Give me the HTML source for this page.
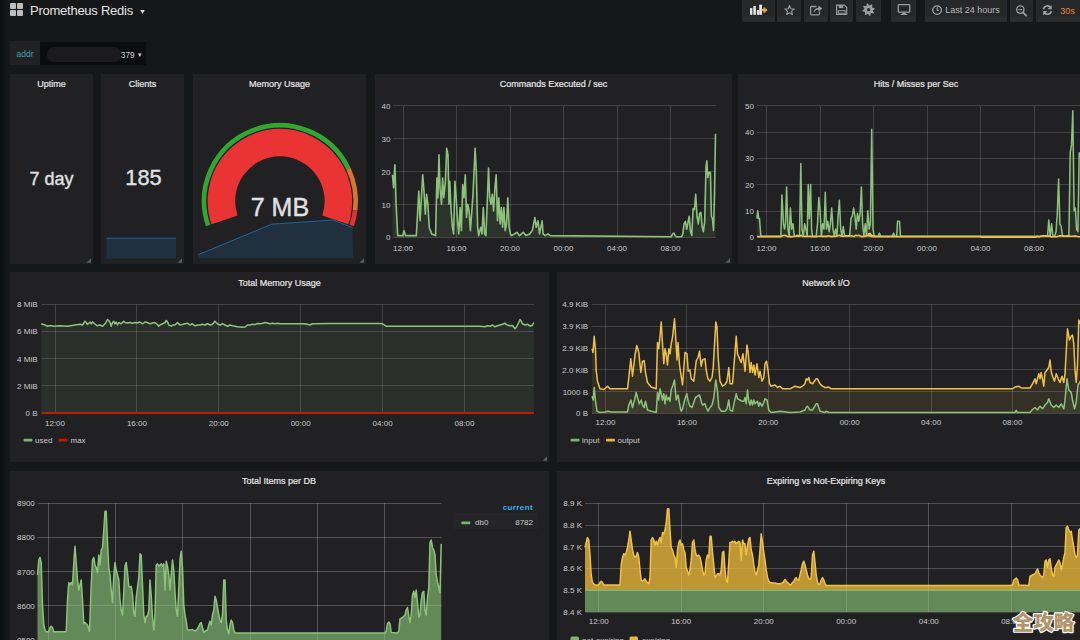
<!DOCTYPE html>
<html><head><meta charset="utf-8"><title>Prometheus Redis - Grafana</title>
<style>
html,body{margin:0;padding:0}
body{width:1080px;height:640px;overflow:hidden;background:#161719;font-family:"Liberation Sans",Arial,sans-serif;color:#d8d9da;position:relative}
.edge{position:absolute;left:0;top:0;width:7px;height:640px;background:linear-gradient(90deg,#0d0e10 0,#101113 3px,#161719 7px)}
.panel{position:absolute;background:#212124}
.ptitle{position:absolute;width:300px;text-align:center;font-size:9px;line-height:12px;color:#e6e6e6;white-space:nowrap;-webkit-text-stroke:0.2px #e6e6e6}
.nav-title{position:absolute;left:30px;top:2px;font-size:13px;line-height:17px;color:#e3e3e3;letter-spacing:-0.25px}
.grid-ic{position:absolute;left:10px;top:3px;width:14px;height:14px}
.grid-ic i{position:absolute;width:6px;height:6px;background:#bdbdbd;border-radius:1px}
.btn{position:absolute;top:-4px;height:25.5px;background:linear-gradient(180deg,#262729 0,#262729 78%,#2c2d2f 84%,#2c2d2f 100%);box-shadow:inset 0 0 0 1px #292a2c;border-radius:0 0 2px 2px}
.var-l{position:absolute;left:10px;top:41px;width:30px;height:24px;background:#212124;color:#33a2b5;font-size:8.5px;line-height:26px;text-align:center}
.var-v{position:absolute;left:40px;top:42px;width:106px;height:23px;background:#0b0c0e}
.blob{position:absolute;left:47px;top:47px;width:74px;height:15px;border-radius:7px;background:#1b1b1d}
.var-t{position:absolute;left:120.8px;top:47.5px;font-size:8.3px;line-height:14px;color:#cfd0d1}
svg{position:absolute;left:0;top:0}
.ax{font-size:8px;fill:#c8c9ca;font-family:"Liberation Sans",Arial,sans-serif}
.lg{font-size:8px;fill:#c8c9ca;font-family:"Liberation Sans",Arial,sans-serif}
.cur{font-size:8px;font-weight:bold;letter-spacing:0.4px;fill:#33b5e5;font-family:"Liberation Sans",Arial,sans-serif}
.gv{font-size:25px;fill:#e0e1e2;stroke:#e0e1e2;stroke-width:0.4px;font-family:"Liberation Sans",Arial,sans-serif}
.stat{position:absolute;text-align:center;color:#e0e1e2;white-space:nowrap;-webkit-text-stroke:0.35px #e0e1e2}
.wm{font-family:"Liberation Sans","Noto Sans CJK SC","WenQuanYi Zen Hei",sans-serif;font-weight:900;font-size:20.5px;fill:#b3936a}
.tb{font-size:9px;fill:#b8b9ba;font-family:"Liberation Sans",Arial,sans-serif}
</style></head><body>
<div class="edge"></div>
<div class="grid-ic"><i style="left:0;top:0"></i><i style="left:7px;top:0"></i><i style="left:0;top:7px"></i><i style="left:7px;top:7px"></i></div>
<div class="nav-title">Prometheus Redis<span style="font-size:7px;position:relative;top:-1px;margin-left:6px">&#9660;</span></div>
<div class="btn" style="left:742px;width:33px"></div>
<div class="btn" style="left:777px;width:24px"></div>
<div class="btn" style="left:804px;width:24px"></div>
<div class="btn" style="left:830px;width:23px"></div>
<div class="btn" style="left:856px;width:25px"></div>
<div class="btn" style="left:891px;width:25px"></div>
<div class="btn" style="left:925px;width:82px"></div>
<div class="btn" style="left:1010px;width:23px"></div>
<div class="btn" style="left:1036px;width:50px"></div>
<div class="var-l">addr</div>
<div class="var-v"></div><div class="blob"></div>
<div class="var-t">379<span style="font-size:6px;margin-left:2px;position:relative;top:-1px">&#9660;</span></div>
<div class="panel" style="left:10px;top:74px;width:83px;height:190px"></div><div class="ptitle" style="left:-98.5px;top:78px">Uptime</div><div class="panel" style="left:101px;top:74px;width:83px;height:190px"></div><div class="ptitle" style="left:-7.5px;top:78px">Clients</div><div class="panel" style="left:193px;top:74px;width:173px;height:190px"></div><div class="ptitle" style="left:129.5px;top:78px">Memory Usage</div><div class="panel" style="left:375px;top:74px;width:357px;height:190px"></div><div class="ptitle" style="left:403.5px;top:78px">Commands Executed / sec</div><div class="panel" style="left:738px;top:74px;width:353px;height:190px"></div><div class="ptitle" style="left:766px;top:78px">Hits / Misses per Sec</div><div class="panel" style="left:10px;top:272px;width:539px;height:190px"></div><div class="ptitle" style="left:129.5px;top:276.6px">Total Memory Usage</div><div class="panel" style="left:557px;top:272px;width:534px;height:190px"></div><div class="ptitle" style="left:676px;top:276.6px">Network I/O</div><div class="panel" style="left:10px;top:471px;width:539px;height:180px"></div><div class="ptitle" style="left:129px;top:475px">Total Items per DB</div><div class="panel" style="left:557px;top:471px;width:534px;height:180px"></div><div class="ptitle" style="left:676px;top:475px">Expiring vs Not-Expiring Keys</div>
<div class="stat" style="left:10px;width:83px;top:166.7px;font-size:18px;line-height:24px">7 day</div>
<div class="stat" style="left:102px;width:83px;top:165px;font-size:21.8px;line-height:26px">185</div>
<svg width="1080" height="640" viewBox="0 0 1080 640">
<line x1="393" y1="105.5" x2="716" y2="105.5" stroke="rgba(255,255,255,0.15)" stroke-width="1"/>
<line x1="393" y1="138.5" x2="716" y2="138.5" stroke="rgba(255,255,255,0.15)" stroke-width="1"/>
<line x1="393" y1="171.5" x2="716" y2="171.5" stroke="rgba(255,255,255,0.15)" stroke-width="1"/>
<line x1="393" y1="204.5" x2="716" y2="204.5" stroke="rgba(255,255,255,0.15)" stroke-width="1"/>
<line x1="393" y1="237.5" x2="716" y2="237.5" stroke="rgba(255,255,255,0.15)" stroke-width="1"/>
<line x1="403.5" y1="105.8" x2="403.5" y2="237.5" stroke="rgba(255,255,255,0.15)" stroke-width="1"/>
<line x1="456.5" y1="105.8" x2="456.5" y2="237.5" stroke="rgba(255,255,255,0.15)" stroke-width="1"/>
<line x1="510.5" y1="105.8" x2="510.5" y2="237.5" stroke="rgba(255,255,255,0.15)" stroke-width="1"/>
<line x1="563.5" y1="105.8" x2="563.5" y2="237.5" stroke="rgba(255,255,255,0.15)" stroke-width="1"/>
<line x1="617.5" y1="105.8" x2="617.5" y2="237.5" stroke="rgba(255,255,255,0.15)" stroke-width="1"/>
<line x1="670.5" y1="105.8" x2="670.5" y2="237.5" stroke="rgba(255,255,255,0.15)" stroke-width="1"/>
<text x="390.5" y="108.6" text-anchor="end" class="ax">40</text>
<text x="390.5" y="141.6" text-anchor="end" class="ax">30</text>
<text x="390.5" y="174.6" text-anchor="end" class="ax">20</text>
<text x="390.5" y="207.6" text-anchor="end" class="ax">10</text>
<text x="390.5" y="240.3" text-anchor="end" class="ax">0</text>
<text x="403" y="251.3" text-anchor="middle" class="ax">12:00</text>
<text x="456.5" y="251.3" text-anchor="middle" class="ax">16:00</text>
<text x="510" y="251.3" text-anchor="middle" class="ax">20:00</text>
<text x="563.5" y="251.3" text-anchor="middle" class="ax">00:00</text>
<text x="617" y="251.3" text-anchor="middle" class="ax">04:00</text>
<text x="670.5" y="251.3" text-anchor="middle" class="ax">08:00</text>
<polygon points="392.5,237.5 392.5,174.7 393.6,187.8 394.9,164.8 396.1,204.3 397.7,235.6 402.8,235.6 403.9,230.6 405.4,235.6 416.3,235.6 418.8,191.1 420.1,220.8 422.7,174.7 424,191.1 425.3,214.2 426.6,194.4 427.9,204.3 429.2,227.3 431.7,233.9 435.6,235.6 436.9,178 437.9,197.7 439,154.9 440,187.8 441.5,204.3 442.6,178 443.8,197.7 445.4,181.3 446.7,148.4 448,154.9 449,204.3 449.8,181.3 451.1,210.9 452.4,227.3 453.6,233.9 454.9,181.3 456.2,197.7 457.5,220.8 458.8,233.9 460.1,207.6 461.4,230.6 462.7,184.6 464,197.7 465.3,174.7 466.5,217.5 467.8,204.3 469.1,210.9 470.4,230.6 473,194.4 475.1,148.4 476.3,171.4 477.6,227.3 478.7,235.6 480.7,227.3 482,233.9 483.3,207.6 484.6,233.9 485.9,235.6 487.2,204.3 488.5,168.1 489.7,197.7 491,204.3 492.3,194.4 493.6,210.9 494.9,187.8 496.2,174.7 497.5,220.8 498.8,197.7 500.1,224 501.4,207.6 502.6,227.3 503.9,207.6 505.2,230.6 506.5,224 507.8,197.7 509.1,227.3 510.4,233.9 511.7,235.6 516.8,232.3 519.4,235.6 523.3,232.3 525.9,235.6 529.7,233.9 532.3,230.6 534.9,217.5 536.2,227.3 538,220.8 539.5,233.9 542.1,220.8 543.1,233.9 545.2,235.6 547.8,233.9 550.3,235.6 671.2,236.8 672.5,234.2 673.8,233 675.1,235.5 676.4,236.8 681.5,236.8 682.8,234.2 684.1,223.9 685.4,221.4 686.7,229.1 688,222.6 689.2,216.2 690.5,231.7 691.8,235.5 693.1,208.5 694.4,209.7 695.7,194.3 697,216.2 698.3,223.9 699.6,213.6 700.9,212.3 702.1,226.5 703.4,231.7 704.7,221.4 706,167.2 706.8,160.8 707.8,177.5 709.1,172.4 710.4,172.4 711.4,216.2 712.5,218.8 713.5,230.4 714.5,193 715.5,133.7 715.5,237.5" fill="#7eb26d" fill-opacity="0.12"/>
<polyline points="392.5,174.7 393.6,187.8 394.9,164.8 396.1,204.3 397.7,235.6 402.8,235.6 403.9,230.6 405.4,235.6 416.3,235.6 418.8,191.1 420.1,220.8 422.7,174.7 424,191.1 425.3,214.2 426.6,194.4 427.9,204.3 429.2,227.3 431.7,233.9 435.6,235.6 436.9,178 437.9,197.7 439,154.9 440,187.8 441.5,204.3 442.6,178 443.8,197.7 445.4,181.3 446.7,148.4 448,154.9 449,204.3 449.8,181.3 451.1,210.9 452.4,227.3 453.6,233.9 454.9,181.3 456.2,197.7 457.5,220.8 458.8,233.9 460.1,207.6 461.4,230.6 462.7,184.6 464,197.7 465.3,174.7 466.5,217.5 467.8,204.3 469.1,210.9 470.4,230.6 473,194.4 475.1,148.4 476.3,171.4 477.6,227.3 478.7,235.6 480.7,227.3 482,233.9 483.3,207.6 484.6,233.9 485.9,235.6 487.2,204.3 488.5,168.1 489.7,197.7 491,204.3 492.3,194.4 493.6,210.9 494.9,187.8 496.2,174.7 497.5,220.8 498.8,197.7 500.1,224 501.4,207.6 502.6,227.3 503.9,207.6 505.2,230.6 506.5,224 507.8,197.7 509.1,227.3 510.4,233.9 511.7,235.6 516.8,232.3 519.4,235.6 523.3,232.3 525.9,235.6 529.7,233.9 532.3,230.6 534.9,217.5 536.2,227.3 538,220.8 539.5,233.9 542.1,220.8 543.1,233.9 545.2,235.6 547.8,233.9 550.3,235.6 671.2,236.8 672.5,234.2 673.8,233 675.1,235.5 676.4,236.8 681.5,236.8 682.8,234.2 684.1,223.9 685.4,221.4 686.7,229.1 688,222.6 689.2,216.2 690.5,231.7 691.8,235.5 693.1,208.5 694.4,209.7 695.7,194.3 697,216.2 698.3,223.9 699.6,213.6 700.9,212.3 702.1,226.5 703.4,231.7 704.7,221.4 706,167.2 706.8,160.8 707.8,177.5 709.1,172.4 710.4,172.4 711.4,216.2 712.5,218.8 713.5,230.4 714.5,193 715.5,133.7" fill="none" stroke="#8dc27b" stroke-width="1.6" stroke-linejoin="round"/>
<line x1="757" y1="105.5" x2="1080" y2="105.5" stroke="rgba(255,255,255,0.15)" stroke-width="1"/>
<line x1="757" y1="132.5" x2="1080" y2="132.5" stroke="rgba(255,255,255,0.15)" stroke-width="1"/>
<line x1="757" y1="158.5" x2="1080" y2="158.5" stroke="rgba(255,255,255,0.15)" stroke-width="1"/>
<line x1="757" y1="184.5" x2="1080" y2="184.5" stroke="rgba(255,255,255,0.15)" stroke-width="1"/>
<line x1="757" y1="211.5" x2="1080" y2="211.5" stroke="rgba(255,255,255,0.15)" stroke-width="1"/>
<line x1="757" y1="237.5" x2="1080" y2="237.5" stroke="rgba(255,255,255,0.15)" stroke-width="1"/>
<line x1="766.5" y1="105.8" x2="766.5" y2="237.3" stroke="rgba(255,255,255,0.15)" stroke-width="1"/>
<line x1="820.5" y1="105.8" x2="820.5" y2="237.3" stroke="rgba(255,255,255,0.15)" stroke-width="1"/>
<line x1="873.5" y1="105.8" x2="873.5" y2="237.3" stroke="rgba(255,255,255,0.15)" stroke-width="1"/>
<line x1="927.5" y1="105.8" x2="927.5" y2="237.3" stroke="rgba(255,255,255,0.15)" stroke-width="1"/>
<line x1="980.5" y1="105.8" x2="980.5" y2="237.3" stroke="rgba(255,255,255,0.15)" stroke-width="1"/>
<line x1="1034.5" y1="105.8" x2="1034.5" y2="237.3" stroke="rgba(255,255,255,0.15)" stroke-width="1"/>
<text x="754" y="108.6" text-anchor="end" class="ax">50</text>
<text x="754" y="134.9" text-anchor="end" class="ax">40</text>
<text x="754" y="161.2" text-anchor="end" class="ax">30</text>
<text x="754" y="187.5" text-anchor="end" class="ax">20</text>
<text x="754" y="213.8" text-anchor="end" class="ax">10</text>
<text x="754" y="240.1" text-anchor="end" class="ax">0</text>
<text x="766.5" y="251.3" text-anchor="middle" class="ax">12:00</text>
<text x="820" y="251.3" text-anchor="middle" class="ax">16:00</text>
<text x="873.5" y="251.3" text-anchor="middle" class="ax">20:00</text>
<text x="927" y="251.3" text-anchor="middle" class="ax">00:00</text>
<text x="980.5" y="251.3" text-anchor="middle" class="ax">04:00</text>
<text x="1034" y="251.3" text-anchor="middle" class="ax">08:00</text>
<polygon points="756.9,237.3 756.9,218.6 757.7,210.7 758.7,218.6 759.5,218.6 760.3,229.1 760.8,236.2 780.9,236.2 781.9,194.9 783.5,223.8 784.5,229.1 785.5,223.8 786.6,187 787.9,229.1 789.2,236.2 790.4,208.1 791.7,229.1 793,223.8 794.3,236.2 799.5,236.2 800.8,163.4 802,229.1 803.3,236.2 804.6,223.8 805.9,229.1 807.2,236.2 808.2,184.4 809.3,218.6 810.6,184.4 811.6,229.1 812.4,236.2 816.2,236.2 817.5,223.8 818.8,197.6 820.1,210.7 821.4,236.2 822.7,223.8 824,229.1 825.3,192.3 826.5,229.1 827.8,221.2 829.1,231.7 830.4,223.8 831.7,208.1 833,229.1 834.3,236.2 835.6,229.1 836.9,236.2 838.1,216 839.4,200.2 840.7,229.1 842,236.2 843.3,226.5 844.6,236.2 849.7,236.2 851,218.6 852.3,216 853.6,208.1 854.9,216 856.2,229.1 857.5,213.3 858.8,221.2 860.1,213.3 861.4,187 862.6,223.8 863.9,236.2 865.2,223.8 866.5,236.2 867.8,210.7 869.1,229.1 870.4,223.8 871.7,129.2 873,229.1 874.2,236.2 878.1,236.2 879.4,233.1 880.7,236.2 892.3,236.2 893.6,233.1 894.9,236.2 896.7,236.2 897.5,221.2 899.5,221.2 900.5,236.2 1045.7,236.2 1047.5,236.2 1048.8,219.9 1050.1,236.2 1051.6,223.8 1052.9,236.2 1054.7,236.2 1056,231.7 1057.3,213.3 1058.6,179.1 1059.9,223.8 1061.2,226.5 1062.5,236.2 1065,236.2 1068.9,236.2 1070.2,152.8 1071.5,144.9 1072.8,110.8 1074.1,210.7 1075.3,208.1 1076.6,229.1 1077.9,231.7 1079.2,152.8 1080.5,158.1 1080.5,237.3" fill="#7eb26d" fill-opacity="0.1"/>
<polyline points="756.9,218.6 757.7,210.7 758.7,218.6 759.5,218.6 760.3,229.1 760.8,236.2 780.9,236.2 781.9,194.9 783.5,223.8 784.5,229.1 785.5,223.8 786.6,187 787.9,229.1 789.2,236.2 790.4,208.1 791.7,229.1 793,223.8 794.3,236.2 799.5,236.2 800.8,163.4 802,229.1 803.3,236.2 804.6,223.8 805.9,229.1 807.2,236.2 808.2,184.4 809.3,218.6 810.6,184.4 811.6,229.1 812.4,236.2 816.2,236.2 817.5,223.8 818.8,197.6 820.1,210.7 821.4,236.2 822.7,223.8 824,229.1 825.3,192.3 826.5,229.1 827.8,221.2 829.1,231.7 830.4,223.8 831.7,208.1 833,229.1 834.3,236.2 835.6,229.1 836.9,236.2 838.1,216 839.4,200.2 840.7,229.1 842,236.2 843.3,226.5 844.6,236.2 849.7,236.2 851,218.6 852.3,216 853.6,208.1 854.9,216 856.2,229.1 857.5,213.3 858.8,221.2 860.1,213.3 861.4,187 862.6,223.8 863.9,236.2 865.2,223.8 866.5,236.2 867.8,210.7 869.1,229.1 870.4,223.8 871.7,129.2 873,229.1 874.2,236.2 878.1,236.2 879.4,233.1 880.7,236.2 892.3,236.2 893.6,233.1 894.9,236.2 896.7,236.2 897.5,221.2 899.5,221.2 900.5,236.2 1045.7,236.2 1047.5,236.2 1048.8,219.9 1050.1,236.2 1051.6,223.8 1052.9,236.2 1054.7,236.2 1056,231.7 1057.3,213.3 1058.6,179.1 1059.9,223.8 1061.2,226.5 1062.5,236.2 1065,236.2 1068.9,236.2 1070.2,152.8 1071.5,144.9 1072.8,110.8 1074.1,210.7 1075.3,208.1 1076.6,229.1 1077.9,231.7 1079.2,152.8 1080.5,158.1" fill="none" stroke="#8dc27b" stroke-width="1.5" stroke-linejoin="round"/>
<polyline points="757,236.6 781,236.6 782,235.8 785.1,235.3 787.7,236.6 790.6,236.6 792.7,236.6 795.8,236.2 797.3,235.3 799.6,236.2 801.2,235.3 802.8,236.4 804.5,236.2 807.1,236.4 810.2,236.4 812.7,236.6 815.9,236.6 818.3,236.2 820.3,236.2 822.7,236.4 824.7,236.2 826.4,236.4 829,235.8 830.7,236.6 833.1,236.4 835,236.4 837.2,235.8 839.5,235.3 841.6,236.2 844.5,236.2 846.1,235.8 848.5,235.8 851.2,235.8 853.8,236.6 855.5,235.3 857.3,235.8 859,235.3 861.2,236.6 864,236.4 866.9,235.8 868.9,235.8 871.5,236.4 874.3,236.6 868,234 870,233.4 872,235.8 876,236.6 980,236.6 982,237.1 1036,237.1 1037,236.3 1039.2,237 1040.8,236.3 1043.3,235.9 1045.2,235.9 1048,236.3 1049.6,235.9 1051.6,237 1053.8,236.7 1056.5,236.7 1059.1,235.9 1061.2,235.9 1062.8,235.9 1064.9,236.3 1067.7,235.9 1070.5,236.3 1073.1,236.3 1075.6,235.9 1078.5,236.7 1080.2,236.7" fill="none" stroke="#f0c244" stroke-width="1.6" stroke-linejoin="round"/>
<line x1="41.5" y1="304.5" x2="534" y2="304.5" stroke="rgba(255,255,255,0.15)" stroke-width="1"/>
<line x1="41.5" y1="331.5" x2="534" y2="331.5" stroke="rgba(255,255,255,0.15)" stroke-width="1"/>
<line x1="41.5" y1="358.5" x2="534" y2="358.5" stroke="rgba(255,255,255,0.15)" stroke-width="1"/>
<line x1="41.5" y1="385.5" x2="534" y2="385.5" stroke="rgba(255,255,255,0.15)" stroke-width="1"/>
<line x1="41.5" y1="413.5" x2="534" y2="413.5" stroke="rgba(255,255,255,0.15)" stroke-width="1"/>
<line x1="55.5" y1="304.5" x2="55.5" y2="412.5" stroke="rgba(255,255,255,0.15)" stroke-width="1"/>
<line x1="136.5" y1="304.5" x2="136.5" y2="412.5" stroke="rgba(255,255,255,0.15)" stroke-width="1"/>
<line x1="218.5" y1="304.5" x2="218.5" y2="412.5" stroke="rgba(255,255,255,0.15)" stroke-width="1"/>
<line x1="300.5" y1="304.5" x2="300.5" y2="412.5" stroke="rgba(255,255,255,0.15)" stroke-width="1"/>
<line x1="382.5" y1="304.5" x2="382.5" y2="412.5" stroke="rgba(255,255,255,0.15)" stroke-width="1"/>
<line x1="464.5" y1="304.5" x2="464.5" y2="412.5" stroke="rgba(255,255,255,0.15)" stroke-width="1"/>
<text x="37.5" y="307.3" text-anchor="end" class="ax">8 MiB</text>
<text x="37.5" y="334.4" text-anchor="end" class="ax">6 MiB</text>
<text x="37.5" y="361.5" text-anchor="end" class="ax">4 MiB</text>
<text x="37.5" y="388.6" text-anchor="end" class="ax">2 MiB</text>
<text x="37.5" y="415.8" text-anchor="end" class="ax">0 B</text>
<text x="55" y="425.8" text-anchor="middle" class="ax">12:00</text>
<text x="136.9" y="425.8" text-anchor="middle" class="ax">16:00</text>
<text x="218.8" y="425.8" text-anchor="middle" class="ax">20:00</text>
<text x="300.7" y="425.8" text-anchor="middle" class="ax">00:00</text>
<text x="382.6" y="425.8" text-anchor="middle" class="ax">04:00</text>
<text x="464.5" y="425.8" text-anchor="middle" class="ax">08:00</text>
<polygon points="41.2,413 41.2,323.8 45,325 47.5,326.2 50,325.5 53.8,326.2 60,325.8 67.5,326.2 75,325 80,324.2 82.5,325 85,321.2 86.2,322.5 87.5,324.5 90,322 91.2,323.8 92.5,321.8 95,324.2 97.5,325.8 100,325 102.5,326.2 105,323.8 106.2,322 107.5,319.5 108.8,320.5 110,322.5 111.2,326.2 112.5,322.5 113.8,321.2 115,323.8 116.2,322 117.5,325 118.8,322.5 121.2,323.8 123.8,321.2 125,322.5 127.5,323 130,322.5 132.5,323.2 135,322.5 137.5,323 140,322 142.5,323.8 145,322 147.5,322.5 150,323.8 152.5,323 155,322.5 157.5,324.5 158.8,326.2 160,325 162.5,323.8 165,322.5 166.2,320.5 167.5,322 168.8,325 171.2,326.2 172.5,325 175,325 177.5,322.5 180,325 182.5,324.5 185,323.8 187.5,323.2 190,325 192.5,323.8 195,325.8 197.5,325 200,325 202.5,324.2 205,325 207.5,323.8 210,325 212.5,324.2 215,321.2 216.2,322.5 217.5,323.8 220,325 222.5,323.8 225,325 227.5,326.2 230,325 232.5,325.8 235,326.2 237.5,326.8 240,327 242.5,327.2 245,327 247.5,325 250,325 252.5,324.2 255,324.5 257.5,323.5 260,323.8 262.5,323.2 265,322.5 267.5,323 270,323.8 272.5,323.2 275,323.8 277.5,323.2 280,323.8 292.5,323.8 305,323.8 310,325 312.5,323.8 330,323.5 355,323.5 380,323.5 382.5,323.8 386.2,326.2 387.5,326.2 455,326.2 480,326.2 485,326.8 487.5,325.8 490,326.2 492.5,325 495,326.8 497.5,325.8 500,325 502.5,324.2 505,323.2 506.2,324.5 507.5,325 510,325.8 512.5,325.5 515,328.8 516.2,327.5 517.5,325 518.8,322.5 520,319.5 521.2,321.2 522.5,323.8 525,325 527.5,324.2 530,326.2 532.5,325 533.8,322.5 533.8,413" fill="#7eb26d" fill-opacity="0.1"/>
<polyline points="41.2,323.8 45,325 47.5,326.2 50,325.5 53.8,326.2 60,325.8 67.5,326.2 75,325 80,324.2 82.5,325 85,321.2 86.2,322.5 87.5,324.5 90,322 91.2,323.8 92.5,321.8 95,324.2 97.5,325.8 100,325 102.5,326.2 105,323.8 106.2,322 107.5,319.5 108.8,320.5 110,322.5 111.2,326.2 112.5,322.5 113.8,321.2 115,323.8 116.2,322 117.5,325 118.8,322.5 121.2,323.8 123.8,321.2 125,322.5 127.5,323 130,322.5 132.5,323.2 135,322.5 137.5,323 140,322 142.5,323.8 145,322 147.5,322.5 150,323.8 152.5,323 155,322.5 157.5,324.5 158.8,326.2 160,325 162.5,323.8 165,322.5 166.2,320.5 167.5,322 168.8,325 171.2,326.2 172.5,325 175,325 177.5,322.5 180,325 182.5,324.5 185,323.8 187.5,323.2 190,325 192.5,323.8 195,325.8 197.5,325 200,325 202.5,324.2 205,325 207.5,323.8 210,325 212.5,324.2 215,321.2 216.2,322.5 217.5,323.8 220,325 222.5,323.8 225,325 227.5,326.2 230,325 232.5,325.8 235,326.2 237.5,326.8 240,327 242.5,327.2 245,327 247.5,325 250,325 252.5,324.2 255,324.5 257.5,323.5 260,323.8 262.5,323.2 265,322.5 267.5,323 270,323.8 272.5,323.2 275,323.8 277.5,323.2 280,323.8 292.5,323.8 305,323.8 310,325 312.5,323.8 330,323.5 355,323.5 380,323.5 382.5,323.8 386.2,326.2 387.5,326.2 455,326.2 480,326.2 485,326.8 487.5,325.8 490,326.2 492.5,325 495,326.8 497.5,325.8 500,325 502.5,324.2 505,323.2 506.2,324.5 507.5,325 510,325.8 512.5,325.5 515,328.8 516.2,327.5 517.5,325 518.8,322.5 520,319.5 521.2,321.2 522.5,323.8 525,325 527.5,324.2 530,326.2 532.5,325 533.8,322.5" fill="none" stroke="#8dc27b" stroke-width="1.5" stroke-linejoin="round"/>
<line x1="41.5" y1="413" x2="534" y2="413" stroke="#bf1b00" stroke-width="2"/>
<rect x="23.5" y="438.8" width="9" height="2.6" rx="1" fill="#7eb26d"/><text x="35" y="443" class="lg">used</text>
<rect x="58.5" y="438.8" width="9" height="2.6" rx="1" fill="#bf1b00"/><text x="70.5" y="443" class="lg">max</text>
<line x1="592" y1="304.5" x2="1080" y2="304.5" stroke="rgba(255,255,255,0.15)" stroke-width="1"/>
<line x1="592" y1="326.5" x2="1080" y2="326.5" stroke="rgba(255,255,255,0.15)" stroke-width="1"/>
<line x1="592" y1="348.5" x2="1080" y2="348.5" stroke="rgba(255,255,255,0.15)" stroke-width="1"/>
<line x1="592" y1="369.5" x2="1080" y2="369.5" stroke="rgba(255,255,255,0.15)" stroke-width="1"/>
<line x1="592" y1="391.5" x2="1080" y2="391.5" stroke="rgba(255,255,255,0.15)" stroke-width="1"/>
<line x1="592" y1="413.5" x2="1080" y2="413.5" stroke="rgba(255,255,255,0.15)" stroke-width="1"/>
<line x1="605.5" y1="304.5" x2="605.5" y2="413.3" stroke="rgba(255,255,255,0.15)" stroke-width="1"/>
<line x1="686.5" y1="304.5" x2="686.5" y2="413.3" stroke="rgba(255,255,255,0.15)" stroke-width="1"/>
<line x1="768.5" y1="304.5" x2="768.5" y2="413.3" stroke="rgba(255,255,255,0.15)" stroke-width="1"/>
<line x1="849.5" y1="304.5" x2="849.5" y2="413.3" stroke="rgba(255,255,255,0.15)" stroke-width="1"/>
<line x1="931.5" y1="304.5" x2="931.5" y2="413.3" stroke="rgba(255,255,255,0.15)" stroke-width="1"/>
<line x1="1012.5" y1="304.5" x2="1012.5" y2="413.3" stroke="rgba(255,255,255,0.15)" stroke-width="1"/>
<text x="588" y="307.3" text-anchor="end" class="ax">4.9 KiB</text>
<text x="588" y="329.1" text-anchor="end" class="ax">3.9 KiB</text>
<text x="588" y="350.9" text-anchor="end" class="ax">2.9 KiB</text>
<text x="588" y="372.7" text-anchor="end" class="ax">2.0 KiB</text>
<text x="588" y="394.5" text-anchor="end" class="ax">1000 B</text>
<text x="588" y="416.1" text-anchor="end" class="ax">0 B</text>
<text x="605.5" y="425.3" text-anchor="middle" class="ax">12:00</text>
<text x="686.9" y="425.3" text-anchor="middle" class="ax">16:00</text>
<text x="768.3" y="425.3" text-anchor="middle" class="ax">20:00</text>
<text x="849.7" y="425.3" text-anchor="middle" class="ax">00:00</text>
<text x="931.1" y="425.3" text-anchor="middle" class="ax">04:00</text>
<text x="1012.5" y="425.3" text-anchor="middle" class="ax">08:00</text>
<polygon points="592,413.3 592,348.8 593,352.5 594.2,336.2 595.5,350 596.2,370 597.5,381.2 600,388.8 603.8,389.5 607.5,386.2 610,388.8 627.5,388.8 628.8,377.5 630.8,358.8 632.5,376.2 635,355 636.8,345.5 638.8,352.5 640.8,372.5 642.5,361.2 644.2,360.8 645.5,372.5 647.5,382.5 651.2,387 656.2,388.8 657.5,342.5 658.8,348.8 660,336.2 661.2,322 662.5,343.8 663.8,363.8 665,348.8 666.2,353.8 667.5,365 668.8,348.8 670,353.8 671.2,343.8 672.5,337.5 674.5,318.8 675.8,338.8 677,360 678,342.5 679.5,365 681.2,376.2 682.5,385 683.8,368.8 685,352.5 687,353.8 688.2,371.2 690,370 691.2,378.8 693.8,381.2 696.2,361.2 698,357.5 699.5,351.2 701.2,366.2 702.5,360 705,358.8 706.2,370 708,378.8 710,381.2 712,377.5 713.2,367.5 714.5,345 715.8,322 717,327.5 718.2,357.5 720,381.2 722.5,386.2 725,384.5 727,381.2 728.8,367.5 730,383.8 732.5,383.8 735,352.5 736.2,336.2 737.5,353.8 739.5,358.8 741.2,362.5 743,353.8 745,371.2 747,345 748,351.2 750,372.5 751.2,362.5 752.5,372.5 753.8,365 755,375 757,363.8 758.8,377.5 760,371.2 762,381.2 763.8,377.5 765,363.8 766.5,361.2 768,370 769.5,383.8 771.2,386.2 775,385 777.5,387.5 780,386.2 782.5,388.8 790,388.8 795,386.2 800,387.5 802.5,386.2 805,383.8 806.2,378.8 807.5,380 808.8,377.5 810,382.5 812.5,383.8 816.2,378.8 817.5,378.8 820,383.8 822.5,386.2 825,387.5 826.2,387.5 828.8,387 831.2,388.8 1012.5,388.8 1015,387 1018.8,386.2 1021.2,388 1030,388 1032.5,383.8 1035,378.8 1036.2,383.8 1038.8,373.8 1040,378.8 1041.2,372.5 1043.8,386.2 1045,372.5 1047,370 1048.8,367.5 1050,360 1051.2,371.2 1052.5,376.2 1054.5,381.2 1056.2,373.8 1058.2,378.8 1060,382.5 1062,376.2 1063.8,382.5 1065,373.8 1066.2,352.5 1067.5,328.8 1069.5,340 1071.2,336.2 1072.5,335 1073.8,343.8 1075,370 1076.2,382.5 1077.5,365 1078.8,320 1081.2,325 1081.2,413.3" fill="#eab839" fill-opacity="0.1"/>
<polygon points="592,413.3 592,396.2 593.2,400 594.2,387.5 595.5,401.2 597,411.2 600,412.5 605,412 607.5,411.2 611.2,412 627.5,412 628.8,405 630.8,400 632.5,407.5 634.5,400 636.2,392.5 637.5,397.5 639.2,403.8 641.2,400 642.5,405 644.2,407.5 645.5,401.2 647.5,410 651.2,411.2 656.2,412.5 657.5,392.5 658.8,400 660,388.8 661.2,393.8 662.5,400 663.8,393.8 665,403.8 666.2,395 667.5,400 668.8,397.5 670,401.2 671.2,390 673,385 674.5,380 676.2,400 678,395 680,406.2 681.2,411.2 682.5,408.8 685,398.8 686.8,393.8 688.2,401.2 690,406.2 692,407.5 693.8,402.5 695.5,397.5 697.5,396.2 699.5,395 701.2,401.2 702.5,405 705,403.8 706.2,407.5 708,411.2 710,407.5 712,405 713.8,397.5 715.8,380 717.5,391.2 718.8,407.5 721.2,411.2 725,411.2 727,408.8 728.8,400 730,410 732.5,411.2 734.5,401.2 736.2,393.8 737.5,398.8 740,400 742,401.2 743.8,401.2 745,397.5 746.2,403.8 747.5,390 748.8,401.2 750,405 751.2,400 752.5,405 753.8,400 755,403.8 757.5,401.2 758.8,406.2 760,402.5 762,406.2 763.8,402.5 765,398.8 767,400 768.8,410 771.2,412.5 780,411.2 790,412.5 800,412 805,410 806.2,407.5 807.5,406.2 810,410 812.5,410 816.2,403.8 817.5,403.8 820,411.2 825,412.5 826.2,411.2 828.8,412.5 1015,412.5 1016.2,410.5 1017.5,412.5 1030,412.5 1032.5,409.5 1035,407.5 1037.5,410 1040,406.2 1042.5,408.8 1045,405 1047.5,402.5 1048.8,398.8 1051.2,405 1053.8,407.5 1056.2,405 1058.8,407.5 1061.2,403.8 1063.8,408.8 1065,400 1067,378.8 1068.8,390 1071.2,392.5 1072.5,400 1074.5,408.8 1076.2,402.5 1078,385 1081.2,380 1081.2,413.3" fill="#7eb26d" fill-opacity="0.1"/>
<polyline points="592,396.2 593.2,400 594.2,387.5 595.5,401.2 597,411.2 600,412.5 605,412 607.5,411.2 611.2,412 627.5,412 628.8,405 630.8,400 632.5,407.5 634.5,400 636.2,392.5 637.5,397.5 639.2,403.8 641.2,400 642.5,405 644.2,407.5 645.5,401.2 647.5,410 651.2,411.2 656.2,412.5 657.5,392.5 658.8,400 660,388.8 661.2,393.8 662.5,400 663.8,393.8 665,403.8 666.2,395 667.5,400 668.8,397.5 670,401.2 671.2,390 673,385 674.5,380 676.2,400 678,395 680,406.2 681.2,411.2 682.5,408.8 685,398.8 686.8,393.8 688.2,401.2 690,406.2 692,407.5 693.8,402.5 695.5,397.5 697.5,396.2 699.5,395 701.2,401.2 702.5,405 705,403.8 706.2,407.5 708,411.2 710,407.5 712,405 713.8,397.5 715.8,380 717.5,391.2 718.8,407.5 721.2,411.2 725,411.2 727,408.8 728.8,400 730,410 732.5,411.2 734.5,401.2 736.2,393.8 737.5,398.8 740,400 742,401.2 743.8,401.2 745,397.5 746.2,403.8 747.5,390 748.8,401.2 750,405 751.2,400 752.5,405 753.8,400 755,403.8 757.5,401.2 758.8,406.2 760,402.5 762,406.2 763.8,402.5 765,398.8 767,400 768.8,410 771.2,412.5 780,411.2 790,412.5 800,412 805,410 806.2,407.5 807.5,406.2 810,410 812.5,410 816.2,403.8 817.5,403.8 820,411.2 825,412.5 826.2,411.2 828.8,412.5 1015,412.5 1016.2,410.5 1017.5,412.5 1030,412.5 1032.5,409.5 1035,407.5 1037.5,410 1040,406.2 1042.5,408.8 1045,405 1047.5,402.5 1048.8,398.8 1051.2,405 1053.8,407.5 1056.2,405 1058.8,407.5 1061.2,403.8 1063.8,408.8 1065,400 1067,378.8 1068.8,390 1071.2,392.5 1072.5,400 1074.5,408.8 1076.2,402.5 1078,385 1081.2,380" fill="none" stroke="#8dc27b" stroke-width="1.5" stroke-linejoin="round"/>
<polyline points="592,348.8 593,352.5 594.2,336.2 595.5,350 596.2,370 597.5,381.2 600,388.8 603.8,389.5 607.5,386.2 610,388.8 627.5,388.8 628.8,377.5 630.8,358.8 632.5,376.2 635,355 636.8,345.5 638.8,352.5 640.8,372.5 642.5,361.2 644.2,360.8 645.5,372.5 647.5,382.5 651.2,387 656.2,388.8 657.5,342.5 658.8,348.8 660,336.2 661.2,322 662.5,343.8 663.8,363.8 665,348.8 666.2,353.8 667.5,365 668.8,348.8 670,353.8 671.2,343.8 672.5,337.5 674.5,318.8 675.8,338.8 677,360 678,342.5 679.5,365 681.2,376.2 682.5,385 683.8,368.8 685,352.5 687,353.8 688.2,371.2 690,370 691.2,378.8 693.8,381.2 696.2,361.2 698,357.5 699.5,351.2 701.2,366.2 702.5,360 705,358.8 706.2,370 708,378.8 710,381.2 712,377.5 713.2,367.5 714.5,345 715.8,322 717,327.5 718.2,357.5 720,381.2 722.5,386.2 725,384.5 727,381.2 728.8,367.5 730,383.8 732.5,383.8 735,352.5 736.2,336.2 737.5,353.8 739.5,358.8 741.2,362.5 743,353.8 745,371.2 747,345 748,351.2 750,372.5 751.2,362.5 752.5,372.5 753.8,365 755,375 757,363.8 758.8,377.5 760,371.2 762,381.2 763.8,377.5 765,363.8 766.5,361.2 768,370 769.5,383.8 771.2,386.2 775,385 777.5,387.5 780,386.2 782.5,388.8 790,388.8 795,386.2 800,387.5 802.5,386.2 805,383.8 806.2,378.8 807.5,380 808.8,377.5 810,382.5 812.5,383.8 816.2,378.8 817.5,378.8 820,383.8 822.5,386.2 825,387.5 826.2,387.5 828.8,387 831.2,388.8 1012.5,388.8 1015,387 1018.8,386.2 1021.2,388 1030,388 1032.5,383.8 1035,378.8 1036.2,383.8 1038.8,373.8 1040,378.8 1041.2,372.5 1043.8,386.2 1045,372.5 1047,370 1048.8,367.5 1050,360 1051.2,371.2 1052.5,376.2 1054.5,381.2 1056.2,373.8 1058.2,378.8 1060,382.5 1062,376.2 1063.8,382.5 1065,373.8 1066.2,352.5 1067.5,328.8 1069.5,340 1071.2,336.2 1072.5,335 1073.8,343.8 1075,370 1076.2,382.5 1077.5,365 1078.8,320 1081.2,325" fill="none" stroke="#f0c244" stroke-width="1.5" stroke-linejoin="round"/>
<rect x="570.5" y="438.8" width="9" height="2.6" rx="1" fill="#7eb26d"/><text x="582" y="443" class="lg">input</text>
<rect x="606" y="438.8" width="9" height="2.6" rx="1" fill="#eab839"/><text x="617.5" y="443" class="lg">output</text>
<line x1="37.5" y1="503.5" x2="441.5" y2="503.5" stroke="rgba(255,255,255,0.15)" stroke-width="1"/>
<line x1="37.5" y1="537.5" x2="441.5" y2="537.5" stroke="rgba(255,255,255,0.15)" stroke-width="1"/>
<line x1="37.5" y1="571.5" x2="441.5" y2="571.5" stroke="rgba(255,255,255,0.15)" stroke-width="1"/>
<line x1="37.5" y1="605.5" x2="441.5" y2="605.5" stroke="rgba(255,255,255,0.15)" stroke-width="1"/>
<line x1="37.5" y1="640.5" x2="441.5" y2="640.5" stroke="rgba(255,255,255,0.15)" stroke-width="1"/>
<line x1="48.5" y1="503.3" x2="48.5" y2="640" stroke="rgba(255,255,255,0.15)" stroke-width="1"/>
<line x1="115.5" y1="503.3" x2="115.5" y2="640" stroke="rgba(255,255,255,0.15)" stroke-width="1"/>
<line x1="182.5" y1="503.3" x2="182.5" y2="640" stroke="rgba(255,255,255,0.15)" stroke-width="1"/>
<line x1="250.5" y1="503.3" x2="250.5" y2="640" stroke="rgba(255,255,255,0.15)" stroke-width="1"/>
<line x1="317.5" y1="503.3" x2="317.5" y2="640" stroke="rgba(255,255,255,0.15)" stroke-width="1"/>
<line x1="384.5" y1="503.3" x2="384.5" y2="640" stroke="rgba(255,255,255,0.15)" stroke-width="1"/>
<text x="17" y="506.1" text-anchor="start" class="ax">8900</text>
<text x="17" y="540.3" text-anchor="start" class="ax">8800</text>
<text x="17" y="574.5" text-anchor="start" class="ax">8700</text>
<text x="17" y="608.7" text-anchor="start" class="ax">8600</text>
<text x="17" y="642.9" text-anchor="start" class="ax">8500</text>
<polygon points="37.5,645 37.5,575 38.8,560 40,557.5 41.2,562.5 42.5,605 43.8,625 45,630 46.2,631.8 48.8,631.8 50,627.5 51.2,626.2 52.5,627.5 53.8,631.8 66.2,631.8 67.5,600 68.8,582.5 70,585 71.2,582.5 72.5,585 73.8,562.5 75,546.2 76.2,562.5 77.5,580 78.8,590 80,585 81.2,580 82.5,600 83.8,623.8 85,622.5 86.2,623.8 87.5,625 89.5,631.2 91.2,585 92.5,560 93.8,557.5 95,565 96.2,567.5 97.5,572.5 98.8,555 100,565 101.2,550 102.5,547.5 103.8,530 105,511.2 106.2,511.2 107.5,542.5 108.8,567.5 110,575 111.2,590 112.5,602.5 113.8,575 115,562.5 116.2,570 117.5,575 118.8,580 120,600 121.2,610 122.5,615 123.8,592.5 125,566.2 126.2,562.5 127.5,572.5 128.8,586.2 130,587.5 131.2,586.2 132.5,595 133.8,612.5 135,616.2 136.2,597.5 137.5,587.5 138.8,577.5 140,553.8 141.2,555 142.5,585 143.8,615 145,622.5 146.2,616.2 147.5,616.2 148.8,610 150,580 151.2,595 152.5,617.5 153.8,630 155,615 156.2,565 157.5,563.8 158.8,566.2 160,565 161.2,563.8 162.5,566.2 163.8,563.8 165,590 166.2,561.2 167.5,566.2 168.8,575 170,590 171.2,575 172.5,560 173.8,570 175,592.5 176.2,610 177.5,616.2 178.8,587.5 180,560 181.2,551.2 182.5,567.5 183.8,605 185,615 186.2,621.2 187.5,630 190,630 192.5,629.5 195,631.2 197.5,628.8 200,623.8 201.2,622.5 202.5,627.5 203.8,632.5 205,631.2 207.5,630 208.8,625 210,621.2 211.2,625 212.5,615 213.8,610 215,596.2 216.2,600 217.5,607.5 218.8,615 220,620 221.2,622.5 222.5,615 223.8,580 225,580 226.2,620 227.5,630 228.8,633.8 230,625 231.2,620 232.5,622.5 233.8,630 235,633 280,633 385,633 386.2,631.2 387.5,623.8 388.8,622 390,623.8 391.2,632.5 397.5,633 398.8,631.2 400,618.8 402.5,617.5 405,615 406.2,610 407.5,607.5 408.8,616.2 410,622.5 411.2,615 412.5,595 413.8,591.2 415,597.5 416.2,590 417.5,602.5 418.8,617.5 420,615 421.2,600 422.5,592.5 423.8,591.2 425,610 426.2,615 427.5,597.5 428.8,587.5 430,542.5 431.2,540 432.5,547.5 433.8,550 435,555 436.2,575 437.5,582.5 438.8,587.5 440,592.5 441.2,543.8 441.2,645" fill="#7eb26d" fill-opacity="0.72"/>
<line x1="37.5" y1="503.5" x2="441.5" y2="503.5" stroke="rgba(255,255,255,0.09)"/>
<line x1="37.5" y1="537.5" x2="441.5" y2="537.5" stroke="rgba(255,255,255,0.09)"/>
<line x1="37.5" y1="571.5" x2="441.5" y2="571.5" stroke="rgba(255,255,255,0.09)"/>
<line x1="37.5" y1="605.5" x2="441.5" y2="605.5" stroke="rgba(255,255,255,0.09)"/>
<line x1="48.5" y1="503.3" x2="48.5" y2="640" stroke="rgba(255,255,255,0.09)"/>
<line x1="115.5" y1="503.3" x2="115.5" y2="640" stroke="rgba(255,255,255,0.09)"/>
<line x1="182.5" y1="503.3" x2="182.5" y2="640" stroke="rgba(255,255,255,0.09)"/>
<line x1="250.5" y1="503.3" x2="250.5" y2="640" stroke="rgba(255,255,255,0.09)"/>
<line x1="317.5" y1="503.3" x2="317.5" y2="640" stroke="rgba(255,255,255,0.09)"/>
<line x1="384.5" y1="503.3" x2="384.5" y2="640" stroke="rgba(255,255,255,0.09)"/>
<polyline points="37.5,575 38.8,560 40,557.5 41.2,562.5 42.5,605 43.8,625 45,630 46.2,631.8 48.8,631.8 50,627.5 51.2,626.2 52.5,627.5 53.8,631.8 66.2,631.8 67.5,600 68.8,582.5 70,585 71.2,582.5 72.5,585 73.8,562.5 75,546.2 76.2,562.5 77.5,580 78.8,590 80,585 81.2,580 82.5,600 83.8,623.8 85,622.5 86.2,623.8 87.5,625 89.5,631.2 91.2,585 92.5,560 93.8,557.5 95,565 96.2,567.5 97.5,572.5 98.8,555 100,565 101.2,550 102.5,547.5 103.8,530 105,511.2 106.2,511.2 107.5,542.5 108.8,567.5 110,575 111.2,590 112.5,602.5 113.8,575 115,562.5 116.2,570 117.5,575 118.8,580 120,600 121.2,610 122.5,615 123.8,592.5 125,566.2 126.2,562.5 127.5,572.5 128.8,586.2 130,587.5 131.2,586.2 132.5,595 133.8,612.5 135,616.2 136.2,597.5 137.5,587.5 138.8,577.5 140,553.8 141.2,555 142.5,585 143.8,615 145,622.5 146.2,616.2 147.5,616.2 148.8,610 150,580 151.2,595 152.5,617.5 153.8,630 155,615 156.2,565 157.5,563.8 158.8,566.2 160,565 161.2,563.8 162.5,566.2 163.8,563.8 165,590 166.2,561.2 167.5,566.2 168.8,575 170,590 171.2,575 172.5,560 173.8,570 175,592.5 176.2,610 177.5,616.2 178.8,587.5 180,560 181.2,551.2 182.5,567.5 183.8,605 185,615 186.2,621.2 187.5,630 190,630 192.5,629.5 195,631.2 197.5,628.8 200,623.8 201.2,622.5 202.5,627.5 203.8,632.5 205,631.2 207.5,630 208.8,625 210,621.2 211.2,625 212.5,615 213.8,610 215,596.2 216.2,600 217.5,607.5 218.8,615 220,620 221.2,622.5 222.5,615 223.8,580 225,580 226.2,620 227.5,630 228.8,633.8 230,625 231.2,620 232.5,622.5 233.8,630 235,633 280,633 385,633 386.2,631.2 387.5,623.8 388.8,622 390,623.8 391.2,632.5 397.5,633 398.8,631.2 400,618.8 402.5,617.5 405,615 406.2,610 407.5,607.5 408.8,616.2 410,622.5 411.2,615 412.5,595 413.8,591.2 415,597.5 416.2,590 417.5,602.5 418.8,617.5 420,615 421.2,600 422.5,592.5 423.8,591.2 425,610 426.2,615 427.5,597.5 428.8,587.5 430,542.5 431.2,540 432.5,547.5 433.8,550 435,555 436.2,575 437.5,582.5 438.8,587.5 440,592.5 441.2,543.8" fill="none" stroke="#8dc27b" stroke-width="1.5" stroke-linejoin="round"/>
<text x="533" y="510" text-anchor="end" class="cur">current</text>
<rect x="453.5" y="512.5" width="84.5" height="17" fill="#252528"/>
<rect x="461.3" y="521.4" width="9" height="2.8" rx="1" fill="#7eb26d"/><text x="475" y="525" class="lg">db0</text><text x="533" y="525" text-anchor="end" class="lg">8782</text>
<line x1="585" y1="503.5" x2="1080" y2="503.5" stroke="rgba(255,255,255,0.15)" stroke-width="1"/>
<line x1="585" y1="525.5" x2="1080" y2="525.5" stroke="rgba(255,255,255,0.15)" stroke-width="1"/>
<line x1="585" y1="546.5" x2="1080" y2="546.5" stroke="rgba(255,255,255,0.15)" stroke-width="1"/>
<line x1="585" y1="568.5" x2="1080" y2="568.5" stroke="rgba(255,255,255,0.15)" stroke-width="1"/>
<line x1="585" y1="590.5" x2="1080" y2="590.5" stroke="rgba(255,255,255,0.15)" stroke-width="1"/>
<line x1="585" y1="612.5" x2="1080" y2="612.5" stroke="rgba(255,255,255,0.15)" stroke-width="1"/>
<line x1="598.5" y1="503.3" x2="598.5" y2="612" stroke="rgba(255,255,255,0.15)" stroke-width="1"/>
<line x1="681.5" y1="503.3" x2="681.5" y2="612" stroke="rgba(255,255,255,0.15)" stroke-width="1"/>
<line x1="763.5" y1="503.3" x2="763.5" y2="612" stroke="rgba(255,255,255,0.15)" stroke-width="1"/>
<line x1="846.5" y1="503.3" x2="846.5" y2="612" stroke="rgba(255,255,255,0.15)" stroke-width="1"/>
<line x1="928.5" y1="503.3" x2="928.5" y2="612" stroke="rgba(255,255,255,0.15)" stroke-width="1"/>
<line x1="1011.5" y1="503.3" x2="1011.5" y2="612" stroke="rgba(255,255,255,0.15)" stroke-width="1"/>
<text x="582" y="506.1" text-anchor="end" class="ax">8.9 K</text>
<text x="582" y="527.8" text-anchor="end" class="ax">8.8 K</text>
<text x="582" y="549.6" text-anchor="end" class="ax">8.7 K</text>
<text x="582" y="571.4" text-anchor="end" class="ax">8.6 K</text>
<text x="582" y="593.1" text-anchor="end" class="ax">8.5 K</text>
<text x="582" y="614.8" text-anchor="end" class="ax">8.4 K</text>
<text x="598.8" y="623.8" text-anchor="middle" class="ax">12:00</text>
<text x="681.2" y="623.8" text-anchor="middle" class="ax">16:00</text>
<text x="763.8" y="623.8" text-anchor="middle" class="ax">20:00</text>
<text x="846.2" y="623.8" text-anchor="middle" class="ax">00:00</text>
<text x="928.8" y="623.8" text-anchor="middle" class="ax">04:00</text>
<text x="1011.2" y="623.8" text-anchor="middle" class="ax">08:00</text>
<rect x="585" y="590.3" width="500" height="21.7" fill="#7eb26d" fill-opacity="0.72"/>
<polygon points="585,590.3 585,547.5 586.2,542.5 587.5,537.5 588.8,540 590,555 591.2,575 592.5,582.5 595,585 598.8,585 600,582.5 601.2,581.2 602.5,582.5 603.8,585 620,585 621.2,565 622.5,557.5 623.8,553.8 625,555 626.2,552.5 627.5,547.5 628.8,540 630,531.2 631.2,540 632.5,550 633.8,555 635,557.5 636.2,556.2 637.5,552.5 638.8,557.5 640,570 641.2,580 642.5,581.2 643.8,580 645,578.8 646.2,581.2 647.5,582.5 648.8,583.8 650,577.5 651.2,540 652.5,537.5 653.8,540 655,545 656.2,541.2 657.5,545 658.8,540 660,537.5 661.2,542.5 662.5,532.5 663.8,533.8 665,530 666.2,522.5 667.5,508.8 668.8,508.8 670,530 671.2,547.5 672.5,550 673.8,555 675,557.5 676.2,567.5 677.5,550 678.8,542.5 680,540 681.2,545 682.5,543.8 683.8,550 685,552.5 686.2,567.5 687.5,571.2 688.8,575 690,570 691.2,560 692.5,542.5 693.8,540 695,550 696.2,555 697.5,556.2 698.8,555 700,557.5 701.2,562.5 702.5,570 703.8,575 705,573.8 706.2,560 707.5,555 708.8,557.5 710,536.2 711.2,536.2 712.5,552.5 713.8,565 715,577.5 716.2,576.2 717.5,573.8 718.8,573.8 720,575 721.2,570 722.5,552.5 723.8,551.2 725,570 726.2,580 727.5,582.5 730,542.5 731.2,542.5 732.5,541.2 733.8,542.5 735,541.2 736.2,543.8 737.5,542.5 738.8,541.2 740,542.5 741.2,560 742.5,540 743.8,543.8 745,543.8 746.2,555 747.5,546.2 748.8,538.8 750,537.5 751.2,550 752.5,555 753.8,565 755,572.5 756.2,575 757.5,570 758.8,565 760,550 761.2,533.8 762.5,542.5 763.8,552.5 765,560 766.2,570 767.5,577.5 768.8,581.2 770,582.5 772.5,583 775,583 777.5,583.8 780,583.8 782.5,583 783.8,581.2 785,579.5 786.2,581.2 787.5,582.5 788.8,583.8 790,585 791.2,584.5 792.5,582.5 793.8,581.2 795,578.8 796.2,577.5 797.5,580 798.8,580 800,575 801.2,570 802.5,563.8 803.8,561.2 805,565 806.2,570 807.5,575 808.8,578.8 810,579.5 811.2,577.5 812.5,555 813.8,551.2 815,562.5 816.2,575 817.5,582.5 818.8,584.5 820,583.8 821.2,580 822.5,577.5 823.8,580 825,583.8 826.2,585.5 1010,585.5 1012.5,585 1013.8,580 1016.2,578 1017.5,579.5 1018.8,585 1028.8,585.5 1030,576.2 1032.5,575 1035,573.8 1037.5,568.8 1038.8,572.5 1040,575 1042.5,577.5 1043.8,575 1045,561.2 1046.2,560 1047.5,567.5 1048.8,560 1050,558.8 1051.2,567.5 1052.5,575 1053.8,576.2 1055,567.5 1056.2,565 1057.5,562.5 1058.8,560 1060,562.5 1061.2,570 1062.5,565 1063.8,557.5 1065,552.5 1066.2,527.5 1067.5,526.2 1068.8,530 1070,532.5 1071.2,531.2 1072.5,540 1073.8,547.5 1075,555 1076.2,557.5 1077.5,555 1078.8,530 1081.2,527.5 1081.2,590.3" fill="#eab839" fill-opacity="0.78"/>
<line x1="585" y1="590.3" x2="1085" y2="590.3" stroke="#7eb26d" stroke-width="1.5"/>
<line x1="585" y1="503.5" x2="1080" y2="503.5" stroke="rgba(255,255,255,0.07)"/>
<line x1="585" y1="525.5" x2="1080" y2="525.5" stroke="rgba(255,255,255,0.07)"/>
<line x1="585" y1="546.5" x2="1080" y2="546.5" stroke="rgba(255,255,255,0.07)"/>
<line x1="585" y1="568.5" x2="1080" y2="568.5" stroke="rgba(255,255,255,0.07)"/>
<line x1="585" y1="590.5" x2="1080" y2="590.5" stroke="rgba(255,255,255,0.07)"/>
<line x1="598.5" y1="503.3" x2="598.5" y2="612" stroke="rgba(255,255,255,0.08)"/>
<line x1="681.5" y1="503.3" x2="681.5" y2="612" stroke="rgba(255,255,255,0.08)"/>
<line x1="763.5" y1="503.3" x2="763.5" y2="612" stroke="rgba(255,255,255,0.08)"/>
<line x1="846.5" y1="503.3" x2="846.5" y2="612" stroke="rgba(255,255,255,0.08)"/>
<line x1="928.5" y1="503.3" x2="928.5" y2="612" stroke="rgba(255,255,255,0.08)"/>
<line x1="1011.5" y1="503.3" x2="1011.5" y2="612" stroke="rgba(255,255,255,0.08)"/>
<polyline points="585,547.5 586.2,542.5 587.5,537.5 588.8,540 590,555 591.2,575 592.5,582.5 595,585 598.8,585 600,582.5 601.2,581.2 602.5,582.5 603.8,585 620,585 621.2,565 622.5,557.5 623.8,553.8 625,555 626.2,552.5 627.5,547.5 628.8,540 630,531.2 631.2,540 632.5,550 633.8,555 635,557.5 636.2,556.2 637.5,552.5 638.8,557.5 640,570 641.2,580 642.5,581.2 643.8,580 645,578.8 646.2,581.2 647.5,582.5 648.8,583.8 650,577.5 651.2,540 652.5,537.5 653.8,540 655,545 656.2,541.2 657.5,545 658.8,540 660,537.5 661.2,542.5 662.5,532.5 663.8,533.8 665,530 666.2,522.5 667.5,508.8 668.8,508.8 670,530 671.2,547.5 672.5,550 673.8,555 675,557.5 676.2,567.5 677.5,550 678.8,542.5 680,540 681.2,545 682.5,543.8 683.8,550 685,552.5 686.2,567.5 687.5,571.2 688.8,575 690,570 691.2,560 692.5,542.5 693.8,540 695,550 696.2,555 697.5,556.2 698.8,555 700,557.5 701.2,562.5 702.5,570 703.8,575 705,573.8 706.2,560 707.5,555 708.8,557.5 710,536.2 711.2,536.2 712.5,552.5 713.8,565 715,577.5 716.2,576.2 717.5,573.8 718.8,573.8 720,575 721.2,570 722.5,552.5 723.8,551.2 725,570 726.2,580 727.5,582.5 730,542.5 731.2,542.5 732.5,541.2 733.8,542.5 735,541.2 736.2,543.8 737.5,542.5 738.8,541.2 740,542.5 741.2,560 742.5,540 743.8,543.8 745,543.8 746.2,555 747.5,546.2 748.8,538.8 750,537.5 751.2,550 752.5,555 753.8,565 755,572.5 756.2,575 757.5,570 758.8,565 760,550 761.2,533.8 762.5,542.5 763.8,552.5 765,560 766.2,570 767.5,577.5 768.8,581.2 770,582.5 772.5,583 775,583 777.5,583.8 780,583.8 782.5,583 783.8,581.2 785,579.5 786.2,581.2 787.5,582.5 788.8,583.8 790,585 791.2,584.5 792.5,582.5 793.8,581.2 795,578.8 796.2,577.5 797.5,580 798.8,580 800,575 801.2,570 802.5,563.8 803.8,561.2 805,565 806.2,570 807.5,575 808.8,578.8 810,579.5 811.2,577.5 812.5,555 813.8,551.2 815,562.5 816.2,575 817.5,582.5 818.8,584.5 820,583.8 821.2,580 822.5,577.5 823.8,580 825,583.8 826.2,585.5 1010,585.5 1012.5,585 1013.8,580 1016.2,578 1017.5,579.5 1018.8,585 1028.8,585.5 1030,576.2 1032.5,575 1035,573.8 1037.5,568.8 1038.8,572.5 1040,575 1042.5,577.5 1043.8,575 1045,561.2 1046.2,560 1047.5,567.5 1048.8,560 1050,558.8 1051.2,567.5 1052.5,575 1053.8,576.2 1055,567.5 1056.2,565 1057.5,562.5 1058.8,560 1060,562.5 1061.2,570 1062.5,565 1063.8,557.5 1065,552.5 1066.2,527.5 1067.5,526.2 1068.8,530 1070,532.5 1071.2,531.2 1072.5,540 1073.8,547.5 1075,555 1076.2,557.5 1077.5,555 1078.8,530 1081.2,527.5" fill="none" stroke="#f0c244" stroke-width="1.5" stroke-linejoin="round"/>
<rect x="570.5" y="636.5" width="8.5" height="7" rx="1.5" fill="#7eb26d"/><text x="582" y="643" class="lg">not-expiring</text>
<rect x="629.5" y="636.5" width="8.5" height="7" rx="1.5" fill="#eab839"/><text x="642" y="643" class="lg">expiring</text>
<rect x="106.5" y="238.2" width="69.5" height="20.3" fill="rgba(31,118,189,0.18)"/>
<line x1="106.5" y1="238.2" x2="176" y2="238.2" stroke="rgb(31,120,193)" stroke-opacity="0.75" stroke-width="1"/>
<polygon points="198.3,258.3 198.3,254.7 271.7,224.2 333.3,220 352.5,227.5 353,258.3" fill="rgba(31,118,189,0.18)"/>
<polyline points="198.3,254.7 271.7,224.2 333.3,220 352.5,227.5" fill="none" stroke="rgb(31,120,193)" stroke-opacity="0.75" stroke-width="1"/>
<path d="M224.49,219.86 A58.5,58.5 0 1 1 335.31,219.86" fill="none" stroke="rgba(245,54,54,0.95)" stroke-width="27.5"/>
<path d="M208.10,225.40 A75.8,75.8 0 0 1 348.43,168.71" fill="none" stroke="rgba(50,172,45,0.97)" stroke-width="4.6"/>
<path d="M348.43,168.71 A75.8,75.8 0 0 1 355.13,210.34" fill="none" stroke="rgba(237,129,40,0.89)" stroke-width="4.6"/>
<path d="M355.13,210.34 A75.8,75.8 0 0 1 351.70,225.40" fill="none" stroke="rgba(245,54,54,0.9)" stroke-width="4.6"/>
<text x="279.9" y="216.3" text-anchor="middle" class="gv">7 MB</text>
<rect x="750" y="8.1" width="2.4" height="6.7" fill="#e6e6e6"/>
<rect x="753.3" y="6.1" width="2.6" height="8.7" fill="#e6e6e6"/>
<rect x="756.9" y="10" width="2.2" height="4.8" fill="#e6e6e6"/>
<rect x="759.2" y="4.7" width="2.8" height="10.1" fill="#e6e6e6"/>
<path d="M764.4,7.4 V12.8 M761.7,10.1 H767.1" stroke="#eba53b" stroke-width="2.1"/>
<polygon points="789.50,5.50 788.21,8.72 784.74,8.95 787.41,11.18 786.56,14.55 789.50,12.70 792.44,14.55 791.59,11.18 794.26,8.95 790.79,8.72" fill="none" stroke="#9b9c9e" stroke-width="1.1" stroke-linejoin="round"/>
<path d="M816.5,6.5 H811.5 Q810.6,6.5 810.6,7.4 V14 Q810.6,14.8 811.5,14.8 H818.6 Q819.5,14.8 819.5,14 V11.5" fill="none" stroke="#9b9c9e" stroke-width="1.3"/>
<path d="M813.5,12.8 Q813.8,8.2 818.5,7.8 V5.5 L822.3,8.6 L818.5,11.6 V9.6 Q815.5,9.6 813.5,12.8 Z" fill="#9b9c9e"/>
<path d="M836.6,5.1 H844.4 L846.7,7.4 V14.5 H836.6 Z" fill="none" stroke="#9b9c9e" stroke-width="1.2"/>
<rect x="838.8" y="5.1" width="4.4" height="3" fill="#9b9c9e"/>
<rect x="838.3" y="10.7" width="6.8" height="2.6" fill="none" stroke="#9b9c9e" stroke-width="1"/>
<polygon points="874.77,9.09 874.53,7.90 872.48,7.63 872.00,6.91 872.53,4.91 871.52,4.23 869.88,5.49 869.03,5.32 867.99,3.53 866.80,3.77 866.53,5.82 865.81,6.30 863.81,5.77 863.13,6.78 864.39,8.42 864.22,9.27 862.43,10.31 862.67,11.50 864.72,11.77 865.20,12.49 864.67,14.49 865.68,15.17 867.32,13.91 868.17,14.08 869.21,15.87 870.40,15.63 870.67,13.58 871.39,13.10 873.39,13.63 874.07,12.62 872.81,10.98 872.98,10.13" fill="#9b9c9e"/>
<circle cx="868.6" cy="9.7" r="1.6" fill="#252628"/>
<rect x="898.3" y="4.6" width="11.4" height="7.6" rx="0.8" fill="none" stroke="#9b9c9e" stroke-width="1.3"/>
<path d="M902.6,12.2 H905.4 L905.9,14 H907.2 V14.9 H900.8 V14 H902.1 Z" fill="#9b9c9e"/>
<circle cx="937.1" cy="10.1" r="4.3" fill="none" stroke="#a8a9aa" stroke-width="1.2"/>
<path d="M937.1,7.4 V10.3 H939" fill="none" stroke="#a8a9aa" stroke-width="1"/>
<text x="945.2" y="13.4" class="tb">Last 24 hours</text>
<circle cx="1020.3" cy="9.6" r="3.7" fill="none" stroke="#9b9c9e" stroke-width="1.3"/>
<path d="M1018.4,9.6 H1022.2" stroke="#9b9c9e" stroke-width="1.1"/>
<path d="M1023,12.4 L1026.2,15.6" stroke="#9b9c9e" stroke-width="2" stroke-linecap="round"/>
<path d="M1043.3,9.2 A4.3,4.3 0 0 1 1050.6,7.3" fill="none" stroke="#a3a4a6" stroke-width="1.6"/>
<path d="M1051.6,5 V9.2 H1047.4 Z" fill="#a3a4a6"/>
<path d="M1051.5,11 A4.3,4.3 0 0 1 1044.2,12.9" fill="none" stroke="#a3a4a6" stroke-width="1.6"/>
<path d="M1043.2,15.2 V11 H1047.4 Z" fill="#a3a4a6"/>
<text x="1060.3" y="13.5" class="tb" fill="#eb7b18" style="fill:#e88a2e">30s</text>
<text x="1012.8" y="630" class="wm" stroke="#ffffff" stroke-width="2.4" paint-order="stroke" stroke-linejoin="round">全攻略</text>
<path d="M86.5,262.8 L91,258.3 L91,262.8 Z" fill="#5c5c5e"/>
<path d="M177.5,262.8 L182,258.3 L182,262.8 Z" fill="#5c5c5e"/>
<path d="M359.5,262.8 L364,258.3 L364,262.8 Z" fill="#5c5c5e"/>
<path d="M725.5,262.8 L730,258.3 L730,262.8 Z" fill="#5c5c5e"/>
<path d="M542.5,460.8 L547,456.3 L547,460.8 Z" fill="#5c5c5e"/>
</svg>
</body></html>
